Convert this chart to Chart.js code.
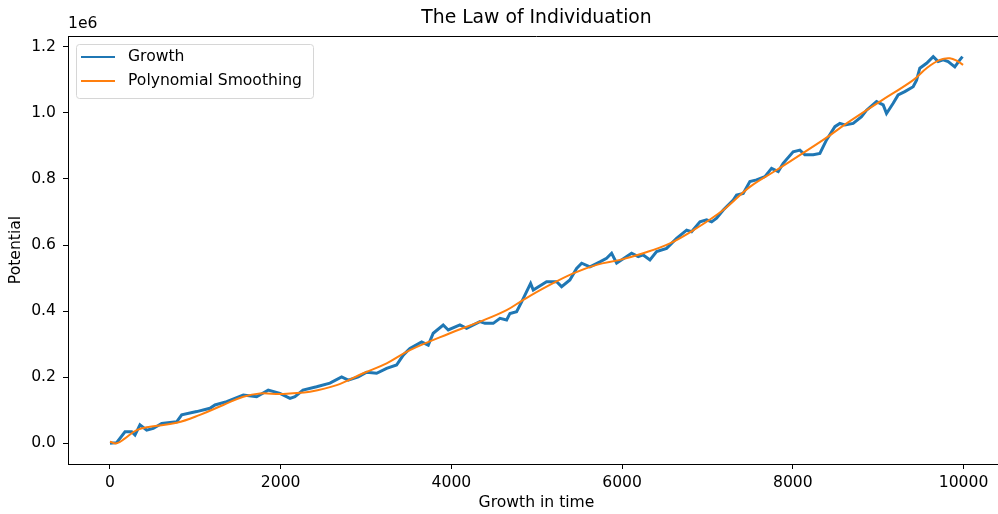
<!DOCTYPE html>
<html>
<head>
<meta charset="utf-8">
<script src="https://cdn.jsdelivr.net/npm/chart.js@4/dist/chart.umd.min.js"></script>
<style>
  html, body { margin: 0; padding: 0; overflow: hidden; background: #fff; }
  canvas { display: block; }
</style>
</head>
<body>
<canvas id="lawChart" width="1010" height="514"></canvas>
<script>
// Growth series
const growthTime = [0, 78, 176, 254, 293, 351, 430, 507, 606, 781, 840, 1016, 1171, 1230, 1367, 1562, 1718, 1854, 1991,
  2109, 2167, 2261, 2421, 2577, 2714, 2791, 2909, 3007, 3124, 3241, 3358, 3436, 3514, 3651, 3729, 3787, 3904, 3963,
  4100, 4178, 4334, 4393, 4490, 4569, 4647, 4686, 4764, 4823, 4881, 4928, 4959, 5115, 5233, 5291, 5388, 5467, 5526,
  5623, 5740, 5818, 5877, 5936, 6111, 6189, 6247, 6326, 6404, 6521, 6638, 6756, 6814, 6912, 6990, 7049, 7107, 7185,
  7302, 7341, 7419, 7497, 7575, 7673, 7751, 7829, 7887, 8004, 8083, 8141, 8239, 8317, 8395, 8493, 8551, 8610, 8707,
  8805, 8864, 8981, 9059, 9098, 9176, 9234, 9312, 9410, 9450, 9488, 9567, 9645, 9703, 9762, 9820, 9898, 9957, 9988];
const growthValue = [0, 2000, 35000, 35000, 25000, 56000, 40000, 45000, 60000, 65000, 86000, 96000, 106000, 116000, 126000,
  146000, 141000, 161000, 151000, 136000, 141000, 161000, 171000, 182000, 201000, 191000, 201000, 215000, 212000,
  227000, 237000, 267000, 287000, 307000, 297000, 333000, 358000, 343000, 358000, 348000, 368000, 363000, 363000,
  378000, 373000, 393000, 398000, 428000, 459000, 484000, 464000, 489000, 489000, 474000, 494000, 529000, 545000,
  534000, 549000, 560000, 575000, 545000, 575000, 565000, 570000, 555000, 580000, 590000, 620000, 645000, 640000,
  670000, 676000, 670000, 681000, 706000, 736000, 751000, 756000, 792000, 797000, 807000, 832000, 822000, 847000,
  882000, 887000, 873000, 873000, 877000, 918000, 958000, 968000, 963000, 968000, 988000, 1008000, 1034000, 1024000,
  998000, 1029000, 1054000, 1064000, 1079000, 1099000, 1135000, 1150000, 1170000, 1155000, 1160000, 1155000,
  1139000, 1160000, 1170000];

// Polynomial smoothing series
const smoothTime = [0, 78, 176, 313, 469, 781, 1054, 1327, 1562, 1757, 1991, 2109, 2343, 2656, 2967, 3241, 3514, 3983,
  4334, 4647, 4842, 5115, 5427, 5701, 5974, 6247, 6560, 6873, 7185, 7497, 7810, 8356, 8630, 9020, 9410, 9567, 9723,
  9840, 9937, 9995];
const smoothValue = [5000, 0, 15000, 40000, 50000, 62000, 86000, 116000, 141000, 151000, 149000, 151000, 156000, 176000,
  212000, 242000, 282000, 333000, 368000, 403000, 434000, 474000, 514000, 540000, 555000, 575000, 605000, 651000,
  706000, 776000, 827000, 918000, 968000, 1034000, 1099000, 1135000, 1160000, 1165000, 1155000, 1145000];

const xTicks = [0, 2000, 4000, 6000, 8000, 10000];
const yTicks = [0, 200000, 400000, 600000, 800000, 1000000, 1200000];

const seriesNames = ["Growth", "Polynomial Smoothing"];
const seriesColors = ["#1f77b4", "#ff7f0e"];

const toPoints = (xs, ys) => xs.map((x, i) => ({ x: x, y: ys[i] }));

const FONT = "'DejaVu Sans', sans-serif";
const LABEL_SIZE = 15.6;

// titles, offset label, top spine and legend in matplotlib style
const decorPlugin = {
  id: "decor",
  afterDraw(chart) {
    const ctx = chart.ctx;
    const area = chart.chartArea;
    const midX = (area.left + area.right) / 2;
    ctx.save();
    ctx.fillStyle = "#000";

    // top spine
    ctx.strokeStyle = "#000";
    ctx.lineWidth = 1;
    ctx.beginPath();
    ctx.moveTo(area.left, area.top + 0.5);
    ctx.lineTo(area.right, area.top + 0.5);
    ctx.stroke();

    ctx.font = "18.8px " + FONT;
    ctx.textAlign = "center";
    ctx.textBaseline = "middle";
    ctx.fillText("The Law of Individuation", midX, 18);

    ctx.font = LABEL_SIZE + "px " + FONT;
    ctx.textAlign = "left";
    ctx.fillText("1e6", area.left, 24);

    ctx.textAlign = "center";
    ctx.fillText("Growth in time", midX, 503);

    ctx.save();
    ctx.translate(16, (area.top + area.bottom) / 2);
    ctx.rotate(-Math.PI / 2);
    ctx.fillText("Potential", 0, 0);
    ctx.restore();

    // legend
    const bx = 76.5, by = 44.5, bw = 237, bh = 54, r = 3;
    ctx.beginPath();
    ctx.moveTo(bx + r, by);
    ctx.lineTo(bx + bw - r, by);
    ctx.quadraticCurveTo(bx + bw, by, bx + bw, by + r);
    ctx.lineTo(bx + bw, by + bh - r);
    ctx.quadraticCurveTo(bx + bw, by + bh, bx + bw - r, by + bh);
    ctx.lineTo(bx + r, by + bh);
    ctx.quadraticCurveTo(bx, by + bh, bx, by + bh - r);
    ctx.lineTo(bx, by + r);
    ctx.quadraticCurveTo(bx, by, bx + r, by);
    ctx.closePath();
    ctx.fillStyle = "rgba(255,255,255,0.8)";
    ctx.fill();
    ctx.strokeStyle = "#d6d6d6";
    ctx.stroke();

    seriesNames.forEach((name, i) => {
      const y = 57 + i * 24;
      ctx.strokeStyle = seriesColors[i];
      ctx.lineWidth = 2;
      ctx.beginPath();
      ctx.moveTo(81, y);
      ctx.lineTo(115, y);
      ctx.stroke();
      ctx.fillStyle = "#000";
      ctx.textAlign = "left";
      ctx.fillText(name, 128, y);
    });
    ctx.restore();
  },
};

const config = {
  type: "line",
  data: {
    datasets: [
      {
        label: seriesNames[0],
        data: toPoints(growthTime, growthValue),
        borderColor: seriesColors[0],
        borderWidth: 3,
        pointRadius: 0,
        tension: 0,
        order: 1,
      },
      {
        label: seriesNames[1],
        data: toPoints(smoothTime, smoothValue),
        borderColor: seriesColors[1],
        borderWidth: 2,
        pointRadius: 0,
        tension: 0.4,
        order: 0,
      },
    ],
  },
  options: {
    responsive: false,
    animation: false,
    layout: { padding: { top: 36, right: 5, left: 0, bottom: 0 } },
    plugins: {
      legend: { display: false },
      tooltip: { enabled: false },
    },
    scales: {
      x: {
        type: "linear",
        min: -492,
        max: 10486,
        afterFit: (scale) => { scale.height = 50; },
        afterBuildTicks: (scale) => { scale.ticks = xTicks.map((v) => ({ value: v })); },
        grid: { drawOnChartArea: false, drawTicks: true, tickLength: 5, color: "#000" },
        border: { display: true, color: "#000", width: 1 },
        ticks: {
          font: { family: FONT, size: LABEL_SIZE },
          color: "#000",
          padding: 5,
          maxRotation: 0,
          callback: (v) => String(v),
        },
      },
      y: {
        type: "linear",
        min: -62600,
        max: 1232400,
        afterFit: (scale) => { scale.width = 68; },
        afterBuildTicks: (scale) => { scale.ticks = yTicks.map((v) => ({ value: v })); },
        grid: { drawOnChartArea: false, drawTicks: true, tickLength: 5, color: "#000" },
        border: { display: true, color: "#000", width: 1 },
        ticks: {
          font: { family: FONT, size: LABEL_SIZE },
          color: "#000",
          padding: 7,
          callback: (v) => (v / 1e6).toFixed(1),
        },
      },
    },
  },
  plugins: [decorPlugin],
};

const lawChart = new Chart(document.getElementById("lawChart"), config);
</script>
</body>
</html>
